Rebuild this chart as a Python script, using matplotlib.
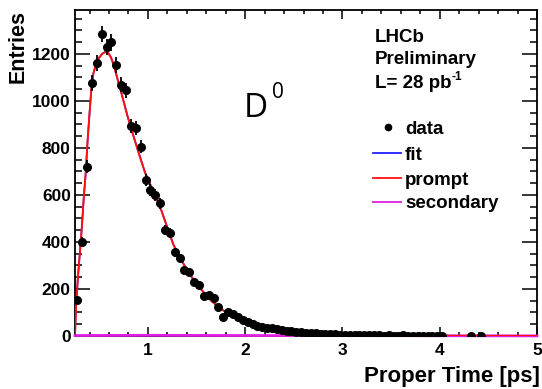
import numpy as np
import matplotlib
matplotlib.use("Agg")
import matplotlib.pyplot as plt
from matplotlib.lines import Line2D

# ---- data ----
bin_centers = [0.275, 0.325, 0.375, 0.425, 0.475, 0.525, 0.575, 0.625, 0.675, 0.725,
               0.775, 0.825, 0.875, 0.925, 0.975, 1.025, 1.075, 1.125, 1.175, 1.225,
               1.275, 1.325, 1.375, 1.425, 1.475, 1.525, 1.575, 1.625, 1.675, 1.725,
               1.775, 1.825, 1.875, 1.925, 1.975, 2.025, 2.075, 2.125, 2.175, 2.225,
               2.275, 2.325, 2.375, 2.425, 2.475, 2.525, 2.575, 2.625, 2.675, 2.725,
               2.775, 2.825, 2.875, 2.925, 2.975, 3.025, 3.075, 3.125, 3.175, 3.225,
               3.275, 3.325, 3.375, 3.425, 3.475, 3.525, 3.575, 3.625, 3.675, 3.725,
               3.775, 3.825, 3.875, 3.925, 3.975, 4.025, 4.325, 4.425]
entries = [155, 400, 720, 1077, 1160, 1285, 1230, 1250, 1155, 1070,
           1045, 895, 885, 805, 665, 620, 600, 565, 450, 438,
           357, 332, 282, 272, 228, 217, 172, 174, 160, 123,
           80, 102, 92, 80, 68, 60, 50, 44, 40, 36,
           32, 28, 24, 22, 20, 18, 16, 14, 12, 11,
           9, 9, 8, 7, 6, 6, 5, 5, 4, 4,
           3, 4, 3, 2, 3, 2, 2, 3, 2, 1,
           2, 2, 1, 1, 1, 1, 1, 1]

curve_t = [0.25, 0.26, 0.28, 0.30, 0.32, 0.34, 0.36, 0.38, 0.40, 0.42,
           0.44, 0.47, 0.50, 0.53, 0.56, 0.59, 0.62, 0.65, 0.69, 0.74,
           0.79, 0.85, 0.90, 0.97, 1.05, 1.12, 1.20, 1.26, 1.34, 1.41,
           1.50, 1.57, 1.65, 1.72, 1.84, 1.95, 2.08, 2.25, 2.45, 2.65,
           2.90, 3.20, 3.60, 4.00, 4.50, 5.00]
prompt_vals = [0, 120, 250, 353, 460, 587, 693, 834, 950, 1060,
               1119, 1160, 1185, 1200, 1208, 1205, 1185, 1150, 1089, 1013,
               935, 852, 785, 695, 620, 555, 460, 390, 325, 275,
               220, 187, 150, 125, 89, 65, 45, 28, 17, 10,
               5, 3, 1.2, 0.5, 0.2, 0.1]
fit_vals = [0, 121, 251, 354, 461, 588, 694, 835, 951, 1061,
            1120, 1161, 1186, 1201, 1209, 1206, 1186, 1151, 1090, 1014,
            936, 853, 786, 696, 621, 556, 461, 391, 326, 276,
            221, 188, 151, 126, 90, 66, 46, 29, 18, 11,
            6, 4, 2, 1, 0.5, 0.3]
secondary_t = [0.25, 1.0, 2.0, 3.0, 4.0, 5.0]
secondary_vals = [2, 3, 2, 1.5, 1, 0.5]

xticks_major = [1, 2, 3, 4, 5]
yticks_major = [0, 200, 400, 600, 800, 1000, 1200]

FONT = "Liberation Sans"

fig = plt.figure(figsize=(5.42, 3.89), dpi=100)
ax = fig.add_axes([75/542, 1-336/389, (537-75)/542, (336-10)/389])

ax.plot(secondary_t, secondary_vals, color="#e020e0", lw=2.0, zorder=3, clip_on=False)
ax.plot(curve_t, fit_vals, color="#2020ff", lw=1.2, zorder=4)
ax.plot(curve_t, prompt_vals, color="#ff1010", lw=1.4, zorder=5)

err = np.sqrt(np.array(entries, dtype=float))
ax.errorbar(bin_centers, entries, yerr=err, fmt="o", color="black", ms=5.5,
            elinewidth=1.3, capsize=0, zorder=6)

ax.set_xlim(0.25, 5.0)
ax.set_ylim(0, 1387)

ax.set_xticks(xticks_major)
ax.set_xticks(np.arange(0.4, 5.0, 0.2), minor=True)
ax.set_yticks(yticks_major)
ax.set_yticks(np.arange(0, 1387, 50), minor=True)

ax.tick_params(axis="x", which="major", direction="in", length=6.5, width=1.1,
               top=True, pad=5)
ax.tick_params(axis="x", which="minor", direction="in", length=3.2, width=1.1, top=True)
ax.tick_params(axis="y", which="major", direction="in", length=10.5, width=1.1,
               right=True, pad=3)
ax.tick_params(axis="y", which="minor", direction="in", length=5.2, width=1.1, right=True)
for lab in ax.get_xticklabels() + ax.get_yticklabels():
    lab.set_fontfamily(FONT)
    lab.set_fontweight("bold")
    lab.set_fontsize(12.5)
for sp in ax.spines.values():
    sp.set_linewidth(1.3)

fig.text(18/542, 1-10/389, "Entries", rotation=90, ha="center", va="top",
         fontfamily=FONT, fontweight="bold", fontsize=15.5)
fig.text(540/542, 1-382/389, "Proper Time [ps]", ha="right", va="baseline",
         fontfamily=FONT, fontweight="bold", fontsize=16)

# annotation texts
fig.text(375/542, 1-42/389, "LHCb", ha="left", va="baseline",
         fontfamily=FONT, fontweight="bold", fontsize=13.5)
fig.text(375/542, 1-64/389, "Preliminary", ha="left", va="baseline",
         fontfamily=FONT, fontweight="bold", fontsize=13.5)
fig.text(375/542, 1-88/389, "L= 28 pb", ha="left", va="baseline",
         fontfamily=FONT, fontweight="bold", fontsize=13.5)
fig.text(451/542, 1-80/389, "-1", ha="left", va="baseline",
         fontfamily=FONT, fontweight="bold", fontsize=8.5)

# legend drawn manually
leg_y = [127, 153, 178, 202]
leg_txt = ["data", "fit", "prompt", "secondary"]
leg_col = [None, "#2020ff", "#ff1010", "#e020e0"]
for yy, tt, cc in zip(leg_y, leg_txt, leg_col):
    yf = 1 - yy/389
    if cc is None:
        fig.add_artist(Line2D([388/542], [yf], marker="o", ms=4.5, color="black",
                              transform=fig.transFigure))
    else:
        fig.add_artist(Line2D([373/542, 401/542], [yf, yf], color=cc, lw=1.3,
                              transform=fig.transFigure))
    fig.text(405/542, yf, tt, ha="left", va="center_baseline",
             fontfamily=FONT, fontweight="bold", fontsize=13.5)

# D0 label
fig.text(244/542, 1-117/389, "D", ha="left", va="baseline",
         fontfamily="Open Sans", fontsize=24)
fig.text(272/542, 1-98/389, "0", ha="left", va="baseline",
         fontfamily="Open Sans", fontsize=15)

fig.savefig("out.png", dpi=100)
